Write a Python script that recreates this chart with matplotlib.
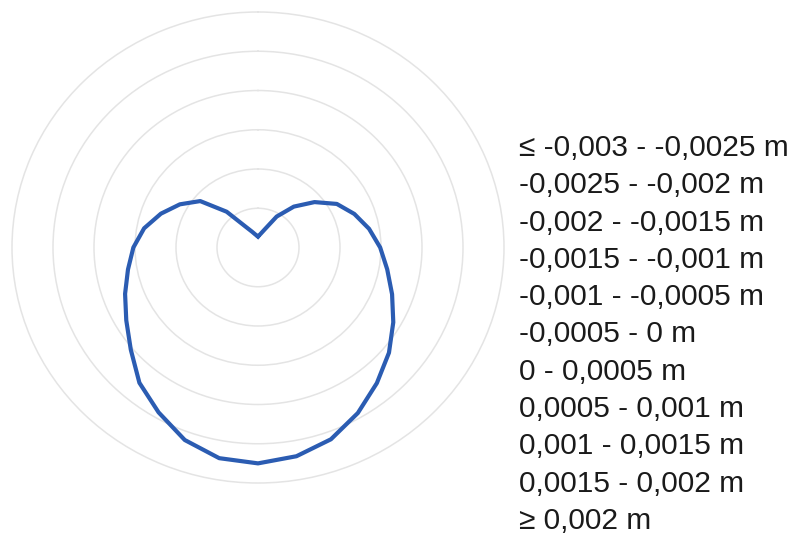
import numpy as np
import matplotlib
matplotlib.use("Agg")
from matplotlib import pyplot as plt

# radial profile, one value every 10 degrees clockwise from north
angles_deg = list(range(0, 360, 10))
radius = [0.28, 0.35, 0.50, 0.91, 1.36, 1.80, 2.22, 2.50, 2.75, 2.98,
          3.20, 3.48, 3.81, 4.17, 4.51, 4.87, 5.20, 5.40, 5.50, 5.45,
          5.22, 4.85, 4.50, 4.05, 3.71, 3.45, 3.22, 3.04, 2.82, 2.52,
          2.20, 1.84, 1.19, 0.62, 0.43, 0.33]

ring_levels = [1, 2, 3, 4, 5]
r_max = 6

class_labels = [
    "≤ -0,003 - -0,0025 m",
    "-0,0025 - -0,002 m",
    "-0,002 - -0,0015 m",
    "-0,0015 - -0,001 m",
    "-0,001 - -0,0005 m",
    "-0,0005 - 0 m",
    "0 - 0,0005 m",
    "0,0005 - 0,001 m",
    "0,001 - 0,0015 m",
    "0,0015 - 0,002 m",
    "≥ 0,002 m",
]

plt.rcParams['font.family'] = ['Liberation Sans', 'DejaVu Sans']

fig = plt.figure(figsize=(8.12, 5.43), dpi=100)
ax = fig.add_axes([12 / 812, 60 / 543, 492 / 812, 471 / 543], projection="polar")
ax.set_aspect("auto")
ax.set_theta_zero_location("N")
ax.set_theta_direction(-1)

theta = np.deg2rad(angles_deg + [angles_deg[0]])
r = radius + [radius[0]]
ax.plot(theta, r, color="#2b5cb2", linewidth=3.0, solid_joinstyle="round", zorder=3)

ax.set_ylim(0, r_max)
ax.set_yticks(ring_levels)
ax.set_yticklabels([])
ax.set_xticks([])
ax.yaxis.grid(True, color="#e4e4e4", linewidth=1.1)
ax.xaxis.grid(False)
ax.spines["polar"].set_color("#e4e4e4")
ax.spines["polar"].set_linewidth(1.1)

# class list to the right of the diagram
y0 = 148
step = 37.3
for i, lab in enumerate(class_labels):
    fig.text(519 / 812, 1 - (y0 + i * step) / 543, lab, fontsize=21.5,
             color="#1a1a1a", va="center", ha="left")

fig.savefig("out.png", dpi=100)
